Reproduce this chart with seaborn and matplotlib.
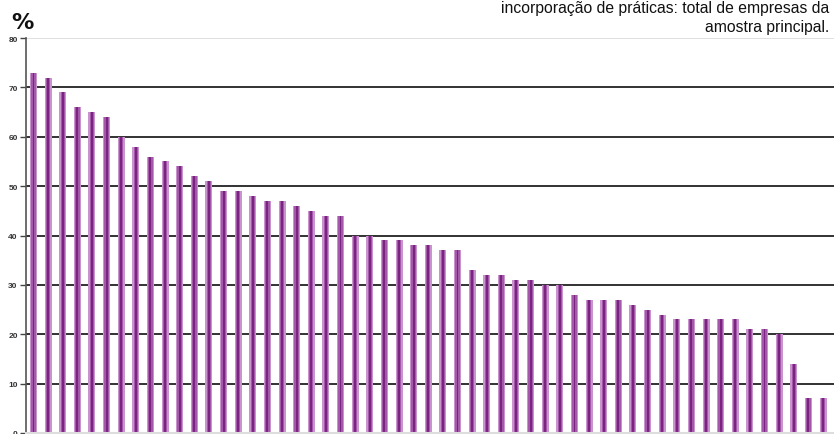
import pandas as pd
import matplotlib.pyplot as plt
import seaborn as sns

# percentage of firms per practice, sorted descending
valores = [73, 72, 69, 66, 65, 64, 60, 58, 56, 55, 54, 52, 51, 49, 49, 48, 47, 47,
           46, 45, 44, 44, 40, 40, 39, 39, 38, 38, 37, 37, 33, 32, 32, 31, 31, 30,
           30, 28, 27, 27, 27, 26, 25, 24, 23, 23, 23, 23, 23, 21, 21, 20, 14, 7, 7]
praticas = [str(i + 1) for i in range(len(valores))]
yticks = [0, 10, 20, 30, 40, 50, 60, 70, 80]

data = pd.DataFrame({'pratica': praticas, 'pct': valores})

sns.set_style('white')
plt.rcParams['font.family'] = ['Liberation Sans', 'DejaVu Sans']

fig = plt.figure(figsize=(8.34, 4.35), dpi=100)
ax = fig.add_axes([0.0312, 0.0023, 0.9688, 0.908])

# fake the shaded cylinder look with stacked bars of decreasing width
for w, c in [(0.48, '#c994cd'), (0.30, '#a358a9'), (0.13, '#7a2380')]:
    sns.barplot(data=data, x='pratica', y='pct', order=praticas, color=c,
                width=w, saturation=1, linewidth=0, edgecolor='none',
                errorbar=None, ax=ax)

ax.set_xlim(-0.51, 54.75)
ax.set_ylim(0, 80)
ax.set_yticks(yticks)
ax.set_yticklabels([str(t) for t in yticks], fontsize=6, color='#333333', fontweight='bold')
ax.tick_params(axis='y', length=4, width=1, color='#444444', pad=2, left=True)
ax.set_xticks([])
ax.set_xlabel('')
ax.set_ylabel('')

for t in yticks[1:-1]:
    ax.axhline(t, color='#222222', lw=1.3, zorder=0.5)
ax.axhline(80, color='#d9d9d9', lw=1.2, zorder=0.5)
ax.set_axisbelow(True)

for s in ['top', 'right']:
    ax.spines[s].set_visible(False)
ax.spines['left'].set_color('#555555')
ax.spines['left'].set_linewidth(1.2)
ax.spines['bottom'].set_color('#dddddd')
ax.spines['bottom'].set_linewidth(1.5)

fig.text(0.013, 1 - 29 / 435, '%', fontsize=16, fontweight='bold', color='#111111',
         family='DejaVu Sans', va='baseline')
fig.text(0.9945, 1 - 13 / 435, 'incorporação de práticas: total de empresas da',
         fontsize=11.3, ha='right', va='baseline', color='#111111')
fig.text(0.9945, 1 - 32 / 435, 'amostra principal.',
         fontsize=11.3, ha='right', va='baseline', color='#111111')

fig.savefig('out.png', dpi=100)
